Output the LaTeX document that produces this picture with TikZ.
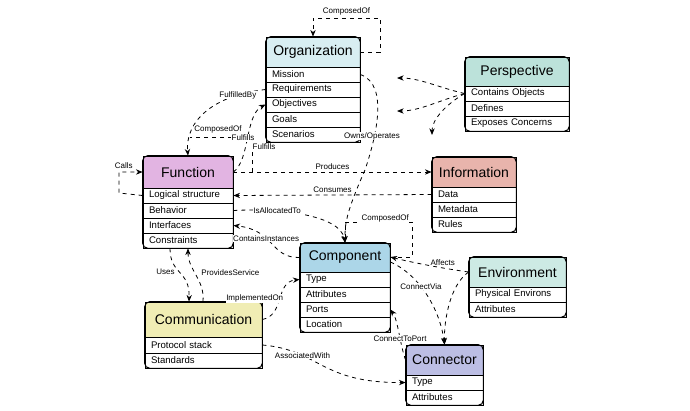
\documentclass[tikz,border=0pt]{standalone}
\usepackage{fontspec}
\setmainfont{Liberation Sans}
\usetikzlibrary{arrows.meta}
\newcommand\hdr[7]{\node[hdr,fill=#7,minimum width={(#3-#2)*0.75pt},minimum height={(#5-#4)*0.75pt}] (#1) at ({(#2+#3)/2},{(#4+#5)/2}) {#6};}
\newcommand\rw[6]{\node[rw,text width={(#3-#2-12)*0.75pt},minimum height={(#5-#4)*0.75pt}] (#1) at ({(#2+#3)/2},{(#4+#5)/2}) {#6};}
\newcommand\outl[2]{\draw[rounded corners=4pt,line width=0.8pt] (#1.north west) rectangle (#2.south east);}
\definecolor{corg}{HTML}{D8EEF2}
\definecolor{cfun}{HTML}{E2B4E2}
\definecolor{cinf}{HTML}{E8B4AC}
\definecolor{cper}{HTML}{BCE2DA}
\definecolor{ccom}{HTML}{ACD6E8}
\definecolor{cenv}{HTML}{CDEAE4}
\definecolor{ccmm}{HTML}{F0EDB4}
\definecolor{ccon}{HTML}{BCBEE4}
\begin{document}
\begin{tikzpicture}[x=0.75pt,y=-0.75pt,
 hdr/.style={draw,line width=0.6pt,inner sep=0pt,font=\fontsize{10.5}{12}\selectfont},
 rw/.style={draw,line width=0.6pt,inner xsep=4.5pt,inner ysep=0pt,align=left,fill=white,font=\fontsize{7.2}{8}\selectfont},
 e/.style={draw,dashed,line width=0.6pt,-{Stealth[length=5pt,width=4pt]}},
 l/.style={font=\fontsize{6}{7}\selectfont,fill=white,inner sep=0.5pt}]
\fill[white] (0,0) rectangle (690,411);
% Organization
\hdr{org}{266}{360}{37}{67}{Organization}{corg}
\rw{org1}{266}{360}{67}{82}{Mission}
\rw{org2}{266}{360}{82}{97}{Requirements}
\rw{org3}{266}{360}{97}{112}{Objectives}
\rw{org4}{266}{360}{112}{127}{Goals}
\rw{org5}{266}{360}{127}{142}{Scenarios}
\outl{org}{org5}
% Perspective
\hdr{per}{465}{569}{57}{86}{Perspective}{cper}
\rw{per1}{465}{569}{86}{101}{Contains Objects}
\rw{per2}{465}{569}{101}{116}{Defines}
\rw{per3}{465}{569}{116}{131}{Exposes Concerns}
\outl{per}{per3}
% Function
\hdr{fun}{143}{233}{156}{188}{Function}{cfun}
\rw{fun1}{143}{233}{188}{203}{Logical structure}
\rw{fun2}{143}{233}{203}{218}{Behavior}
\rw{fun3}{143}{233}{218}{233}{Interfaces}
\rw{fun4}{143}{233}{233}{248}{Constraints}
\outl{fun}{fun4}
% Information
\hdr{inf}{432}{516}{157}{187}{Information}{cinf}
\rw{inf1}{432}{516}{187}{202}{Data}
\rw{inf2}{432}{516}{202}{217}{Metadata}
\rw{inf3}{432}{516}{217}{232}{Rules}
\outl{inf}{inf3}
% Component
\hdr{cmp}{300}{390}{243}{272}{Component}{ccom}
\rw{cmp1}{300}{390}{272}{287}{Type}
\rw{cmp2}{300}{390}{287}{302}{Attributes}
\rw{cmp3}{300}{390}{302}{317}{Ports}
\rw{cmp4}{300}{390}{317}{332}{Location}
\outl{cmp}{cmp4}
% Environment
\hdr{env}{469}{566}{257}{287}{Environment}{cenv}
\rw{env1}{469}{566}{287}{302}{Physical Environs}
\rw{env2}{469}{566}{302}{317}{Attributes}
\outl{env}{env2}
% Communication
\hdr{cmm}{145}{262}{302}{337}{Communication}{ccmm}
\rw{cmm1}{145}{262}{337}{353}{Protocol stack}
\rw{cmm2}{145}{262}{353}{368}{Standards}
\outl{cmm}{cmm2}
% Connector
\hdr{con}{406}{483}{345}{375}{Connector}{ccon}
\rw{con1}{406}{483}{375}{390}{Type}
\rw{con2}{406}{483}{390}{405}{Attributes}
\outl{con}{con2}
% coordinates
\coordinate (c1) at (380,52);
\coordinate (c2) at (119,193);
\coordinate (c3) at (412,257);
\coordinate (c4) at (252,172);
% edges
\draw[e] (org.east |- c1) -- (c1) |- (313,18) node[l,pos=0.75,above=1pt]{ComposedOf} -- (org.north -| 313,0);
\draw[e] (org2.west) .. controls (215,95) and (185,120) .. (fun.north) node[l,pos=0.2]{FulfilledBy};
\draw[dashed,line width=0.6pt] (248,137) -- (190,137);
\node[l] (lcomp) at (218,129) {ComposedOf};
\draw[e] (fun.east |- c4) .. controls (250,160) and (245,115) .. (org3.west);
\draw[dashed,line width=0.6pt] (c4) -- (252,140);
\node[l] (lf1) at (243,138) {Fulfills};
\node[l] (lf2) at (264,147) {Fulfills};
\draw[e] (fun.east |- c4) -- (inf.west) node[l,midway,above=1pt]{Produces};
\draw[e] (inf1.west) -- (fun1.east) node[l,midway,above=1pt]{Consumes};
\draw[e] (fun1.west) -- (c2) |- (fun.west) node[l,pos=0.6,above=2pt]{Calls};
\draw[e] (org1.east) .. controls (390,85) and (375,140) .. (365,170) .. controls (345,215) and (345,225) .. (cmp.north);
\node[l] (lown) at (372,136) {Owns/Operates};
\draw[e] (fun2.east) .. controls (280,208) and (340,215) .. (cmp.north) node[l,pos=0.3]{IsAllocatedTo};
\draw[e] (cmp.east |- c3) -- (c3) |- (345,222) node[l,pos=0.7,above=-1pt]{ComposedOf} -- (cmp.north);
\draw[e] (cmp.west) .. controls (270,258) and (275,230) .. (fun3.east) node[l,pos=0.6]{ContainsInstances};
\draw[e] (fun4.south -| 170,0) .. controls (170,275) and (190,270) .. (cmm.north -| 189,0) node[l,pos=0.45,left=2pt]{Uses};
\draw[e] (cmm.north -| 203,0) .. controls (205,280) and (188,270) .. (fun4.south -| 188,0) node[l,pos=0.55,right=4pt]{ProvidesService};
\draw[e] (cmm.east) .. controls (285,315) and (275,282) .. (cmp1.west) node[l,pos=0.5,left=-3pt]{ImplementedOn};
\draw[e] (cmm1.east) .. controls (320,350) and (320,383) .. (con1.west) node[l,pos=0.3]{AssociatedWith};
\draw[e] (env.west) .. controls (440,268) and (410,262) .. (cmp.east |- c3) node[l,pos=0.3,above=1pt]{Affects};
\draw[e] (env.west) .. controls (450,285) and (444,320) .. (con.north);
\draw[e] (cmp.east |- 0,262) .. controls (420,275) and (440,310) .. (con.north) node[l,pos=0.4]{ConnectVia};
\draw[e] (con.west |- 0,360) .. controls (400,345) and (398,320) .. (cmp3.east) node[l,pos=0.4]{ConnectToPort};
\draw[e] (per1.west) .. controls (440,88) and (420,78) .. (397,78);
\draw[e] (per1.west) .. controls (440,100) and (420,111) .. (397,111);
\draw[e] (per1.west) .. controls (445,105) and (432,120) .. (432,135);
\end{tikzpicture}
\end{document}
